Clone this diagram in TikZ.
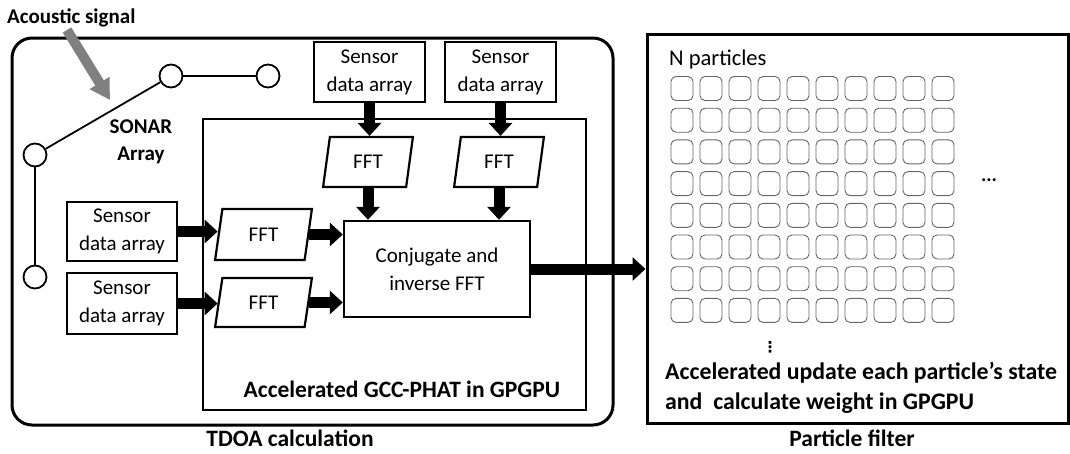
\documentclass[tikz,border=0pt]{standalone}
\usepackage{fontspec}
\setmainfont{Carlito}
\newfontfamily\dejavu{DejaVu Sans}
\usetikzlibrary{arrows.meta,shapes.geometric,calc}
\begin{document}
\begin{tikzpicture}[x=1pt,y=-1pt,
  txt/.style={font=\fontsize{21}{28}\selectfont, align=center, inner sep=0pt},
  btxt/.style={font=\fontsize{23.5}{28}\selectfont\bfseries, inner sep=0pt},
  sensor/.style={draw, line width=2.2pt, txt, minimum width=111pt, minimum height=60pt},
  fftbox/.style={draw, line width=2.2pt, trapezium, trapezium left angle=79, trapezium right angle=101,
     trapezium stretches=true, minimum width=92pt, minimum height=50pt, txt},
  fat/.style={line width=11pt, -{Triangle[width=23pt,length=13pt]}},
  sonar/.style={draw, circle, line width=1.8pt, minimum size=23pt, inner sep=0pt},
  part/.style={draw=black!60, line width=0.9pt, rounded corners=5pt, minimum width=22pt, minimum height=24pt, inner sep=0pt},
]
\useasboundingbox (0,0) rectangle (1070,453);
% outer frames
\draw[line width=3pt, rounded corners=20pt] (12,38) rectangle (613,425);
\draw[line width=2.4pt] (203,119) rectangle (586,410);
\node[draw, line width=3pt, minimum width=421pt, minimum height=389pt, inner sep=0pt] (pf) at (857.5,228.5) {};

% texts
\node[font=\fontsize{21}{28}\selectfont\bfseries, inner sep=0pt, anchor=base west] (acoustic) at (7,23) {Acoustic signal};
\node[font=\fontsize{21}{27}\selectfont\bfseries, inner sep=0pt, anchor=base] (sonar1) at (141,133) {SONAR};
\node[font=\fontsize{21}{27}\selectfont\bfseries, inner sep=0pt, anchor=base] (sonar2) at (141,160) {Array};
\node[btxt, anchor=base] (gcc) at (402,397) {Accelerated GCC-PHAT in GPGPU};
\node[btxt, anchor=base] (tdoa) at (290,446) {TDOA calculation};
\node[btxt, anchor=base] (pftxt) at (852,446) {Particle filter};
\node[font=\fontsize{22.5}{28}\selectfont, inner sep=0pt, anchor=base west] (np) at (669,65) {N particles};
\node[btxt, font=\fontsize{23.8}{30}\selectfont\bfseries, anchor=base west] (acc1) at (665,379) {Accelerated update each particle’s state};
\node[btxt, font=\fontsize{23.8}{30}\selectfont\bfseries, anchor=base west] (acc2) at (665,409) {and\ \ calculate weight in GPGPU};

% acoustic arrow
\coordinate (sigA) at (67,30);
\coordinate (sigB) at (110,100);
\draw[line width=10pt, draw=black!50, -{Triangle[width=22pt,length=20pt]}] (sigA) -- (sigB);

% sonar array
\node[sonar] (cA) at (171,76) {};
\node[sonar] (cB) at (268,76) {};
\node[sonar] (cC) at (35,155) {};
\node[sonar] (cD) at (35,277) {};
\draw[line width=1.8pt] (cA) -- (cB);
\draw[line width=1.8pt] (cC) -- (cA);
\draw[line width=1.8pt] (cC) -- (cD);

% sensor boxes
\node[sensor] (sT1) at (369.5,72) {Sensor\\data array};
\node[sensor] (sT2) at (500.5,72) {Sensor\\data array};
\node[sensor, minimum width=110pt, minimum height=59pt] (sL1) at (122,231.5) {Sensor\\data array};
\node[sensor, minimum width=110pt, minimum height=61pt] (sL2) at (122,303.5) {Sensor\\data array};

% FFTs
\node[fftbox, minimum width=90pt] (fT1) at (368,162) {FFT};
\node[fftbox, minimum width=90pt] (fT2) at (499,162) {FFT};
\node[fftbox, minimum width=97pt, minimum height=51pt] (fL1) at (263.5,234.5) {FFT};
\node[fftbox, minimum width=97pt, minimum height=49pt] (fL2) at (263.5,302.5) {FFT};

% conjugate
\node[draw, line width=2.4pt, txt, minimum width=186pt, minimum height=96pt] (conj) at (437,269) {Conjugate and\\inverse FFT};

% arrows
\draw[fat] (sT1.south) -- (sT1.south |- fT1.north);
\draw[fat] (sT2.south) -- (sT2.south |- fT2.north);
\draw[fat] (fT1.south) -- (fT1.south |- conj.north);
\draw[fat] (fT2.south) -- (fT2.south |- conj.north);
\draw[fat] (sL1.east) -- (sL1.east -| fL1.west);
\draw[fat] (sL2.east) -- (sL2.east -| fL2.west);
\draw[fat] (fL1.east) -- (fL1.east -| conj.west);
\draw[fat] (fL2.east) -- (fL2.east -| conj.west);
\draw[fat] (conj.east) -- (conj.east -| pf.west);

% particles
\foreach \i in {0,...,9} {
  \foreach \j in {0,...,7} {
    \node[part] (p-\i-\j) at ({682+29*\i},{88.5+31.7*\j}) {};
  }
}
\node[font=\fontsize{20}{20}\selectfont\bfseries, inner sep=0pt] (hdots) at (989,180) {...};
\node[font=\fontsize{15}{18}\selectfont\dejavu\bfseries, inner sep=0pt] (vdots) at (770,347) {⋮};
\end{tikzpicture}
\end{document}
